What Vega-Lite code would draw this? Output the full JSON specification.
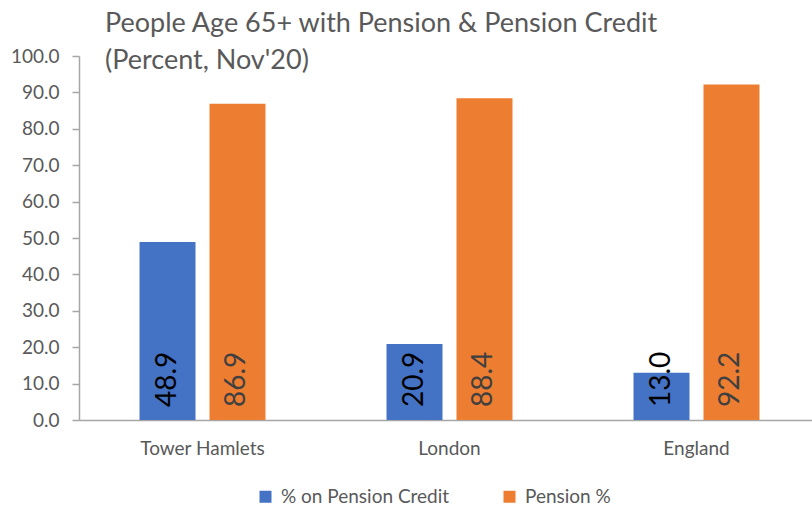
{
  "$schema": "https://vega.github.io/schema/vega-lite/v6.json",
  "autosize": "none",
  "padding": {"left": 79, "top": 56, "right": 0, "bottom": 88},
  "width": 741,
  "height": 364,
  "background": "white",
  "title": {
    "text": ["People Age 65+ with Pension & Pension Credit", "(Percent, Nov'20)"],
    "anchor": "start",
    "frame": "group",
    "dx": 26,
    "offset": -28,
    "font": "Lato",
    "fontSize": 27,
    "fontWeight": "normal",
    "color": "#595959",
    "lineHeight": 37
  },
  "config": {
    "view": {"stroke": null},
    "font": "Lato"
  },
  "data": {
    "values": [
      {"region": "Tower Hamlets", "series": "% on Pension Credit", "value": 48.9},
      {"region": "Tower Hamlets", "series": "Pension %", "value": 86.9},
      {"region": "London", "series": "% on Pension Credit", "value": 20.9},
      {"region": "London", "series": "Pension %", "value": 88.4},
      {"region": "England", "series": "% on Pension Credit", "value": 13.0},
      {"region": "England", "series": "Pension %", "value": 92.2}
    ]
  },
  "encoding": {
    "x": {
      "field": "region",
      "type": "nominal",
      "sort": ["Tower Hamlets", "London", "England"],
      "scale": {"paddingInner": 0.49, "paddingOuter": 0.245},
      "axis": {
        "title": null,
        "labelAngle": 0,
        "labelFont": "Lato",
        "labelFontSize": 19,
        "labelColor": "#595959",
        "labelPadding": 19,
        "ticks": false,
        "domainColor": "#a6a6a6",
        "domainWidth": 1.5
      }
    },
    "xOffset": {
      "field": "series",
      "type": "nominal",
      "sort": ["% on Pension Credit", "Pension %"],
      "scale": {"paddingInner": 0.2, "paddingOuter": 0}
    },
    "y": {
      "field": "value",
      "type": "quantitative",
      "scale": {"domain": [0, 100], "nice": false},
      "axis": {
        "title": null,
        "values": [0, 10, 20, 30, 40, 50, 60, 70, 80, 90, 100],
        "format": ".1f",
        "grid": false,
        "labelFont": "Lato",
        "labelFontSize": 19,
        "labelColor": "#595959",
        "labelPadding": 13,
        "tickSize": 7,
        "tickColor": "#a6a6a6",
        "domainColor": "#a6a6a6",
        "domainWidth": 1.5,
        "tickWidth": 1.5
      }
    }
  },
  "layer": [
    {
      "mark": {"type": "bar"},
      "encoding": {
        "color": {
          "field": "series",
          "type": "nominal",
          "sort": ["% on Pension Credit", "Pension %"],
          "scale": {"domain": ["% on Pension Credit", "Pension %"], "range": ["#4472C4", "#ED7D31"]},
          "legend": {
            "title": null,
            "orient": "none",
            "direction": "horizontal",
            "legendX": 177,
            "legendY": 431,
            "symbolType": "square",
            "symbolSize": 144,
            "symbolStrokeWidth": 0,
            "labelFont": "Lato",
            "labelFontSize": 19,
            "labelColor": "#595959",
            "labelLimit": 400,
            "columnPadding": 50,
            "labelOffset": 6
          }
        }
      }
    },
    {
      "mark": {
        "type": "text",
        "angle": 270,
        "align": "left",
        "baseline": "middle",
        "dx": 13,
        "font": "Lato",
        "fontSize": 28
      },
      "encoding": {
        "y": {"datum": 0, "type": "quantitative"},
        "text": {"field": "value", "type": "quantitative", "format": ".1f"},
        "color": {
          "condition": {"test": "datum.series === '% on Pension Credit'", "value": "#000000"},
          "value": "#404040"
        }
      }
    }
  ]
}
